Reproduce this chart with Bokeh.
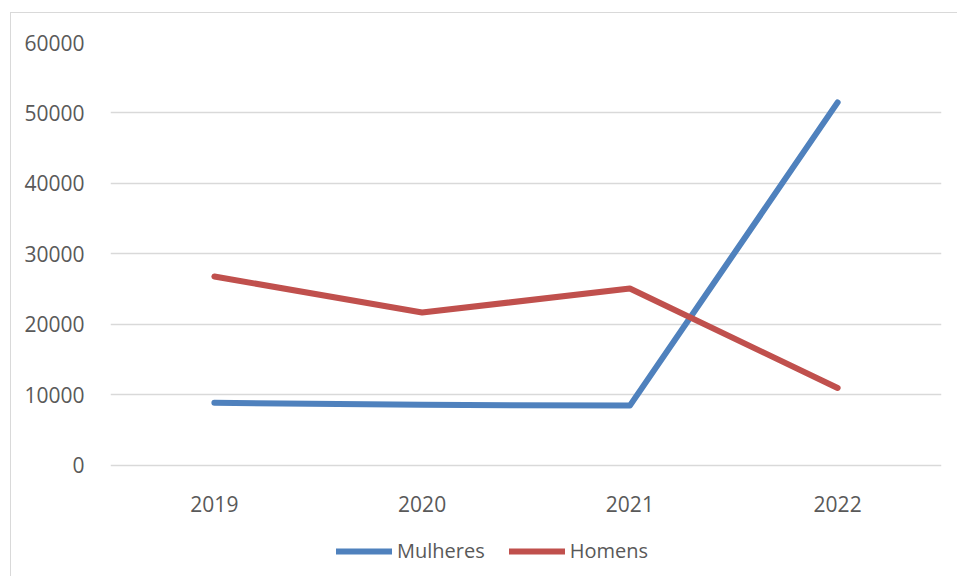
from bokeh.plotting import figure
from bokeh.models import Legend, LegendItem, FixedTicker
from bokeh.embed import file_html
from bokeh.resources import INLINE

years = ["2019", "2020", "2021", "2022"]
mulheres = [8900, 8600, 8500, 51500]
homens = [26800, 21700, 25100, 11000]
y_ticks = [0, 10000, 20000, 30000, 40000, 50000, 60000]

FONT = "Open Sans"
TXT = "#595959"

# frame extends below 0 to leave room for the category labels and the legend
p = figure(x_range=years, y_range=(-15745, 60000), frame_width=831, frame_height=534,
           output_backend="svg", toolbar_location=None,
           min_border_left=99, min_border_top=29, min_border_right=16, min_border_bottom=0)
p.margin = (12, 0, 0, 10)
p.styles = {"border-top": "1px solid #d9d9d9", "border-left": "1px solid #d9d9d9"}
p.outline_line_color = None
p.background_fill_color = "white"
p.border_fill_color = "white"

l1 = p.line(years, mulheres, line_color="#4f81bd", line_width=6, line_cap="round", line_join="round")
l2 = p.line(years, homens, line_color="#c0504d", line_width=6, line_cap="round", line_join="round")

p.xgrid.grid_line_color = None
p.ygrid.grid_line_color = "#d9d9d9"
p.ygrid.grid_line_width = 1.5
p.yaxis.ticker = FixedTicker(ticks=y_ticks)
p.xaxis.fixed_location = 0

for ax in (p.xaxis[0], p.yaxis[0]):
    ax.axis_line_color = None
    ax.major_tick_line_color = None
    ax.minor_tick_line_color = None
    ax.major_label_text_font = FONT
    ax.major_label_text_font_size = "21px"
    ax.major_label_text_color = TXT
p.yaxis.major_label_standoff = 20
p.xaxis.major_label_standoff = 25

legend = Legend(items=[LegendItem(label="Mulheres", renderers=[l1]),
                       LegendItem(label="Homens", renderers=[l2])],
                orientation="horizontal", location=(226, 12),
                border_line_color=None, background_fill_alpha=0,
                padding=0, margin=0, spacing=24, glyph_width=56, glyph_height=26,
                label_standoff=5, label_text_font=FONT, label_text_font_size="20px",
                label_text_color=TXT)
p.add_layout(legend, "center")

open("out.html", "w").write(file_html(p, INLINE))
